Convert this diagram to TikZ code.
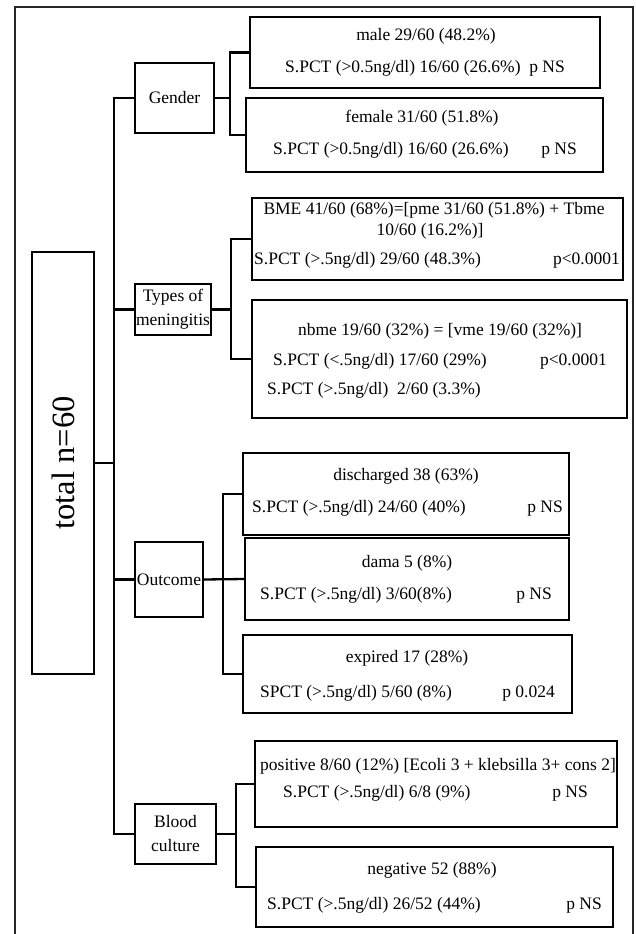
\documentclass[tikz,border=0pt]{standalone}
\usepackage{fontspec}
\setmainfont{Liberation Serif}
\begin{document}
\begin{tikzpicture}[x=1pt,y=-1pt,
  box/.style={draw, line width=2.3pt, anchor=north west, inner sep=0pt, outer sep=0pt},
  cat/.style={box, align=center, font=\fontsize{17.5}{24}\selectfont},
  txt/.style={inner sep=0pt, font=\fontsize{17.5}{21}\selectfont},
  conn/.style={line width=2.3pt},
  frame/.style={line width=1.4pt, draw=black!85}
]
\useasboundingbox (0,0) rectangle (636,934);
% outer frame (open at bottom)
\draw[frame] (15,934) -- (15,7) -- (633,7) -- (633,934);

% root
\node[box, minimum width=62pt, minimum height=422pt] (total) at (32,252) {};
\node[inner sep=0pt, rotate=90, font=\fontsize{32.5}{36}\selectfont] (totaltxt) at (total.center) {total n=60};

% categories
\node[cat, minimum width=79pt, minimum height=70pt] (gender) at (135,63) {Gender};
\node[cat, minimum width=76pt, minimum height=51pt] (types) at (135,284) {Types of\\meningitis};
\node[cat, minimum width=68pt, minimum height=75pt] (outcome) at (135,542) {Outcome};
\node[cat, minimum width=81pt, minimum height=60pt] (blood) at (135,804) {Blood\\culture};

% leaves
\node[box, minimum width=350pt, minimum height=71pt] (male) at (250,17) {};
\node[box, minimum width=357pt, minimum height=74pt] (female) at (246,98) {};
\node[box, minimum width=371pt, minimum height=82pt] (bme) at (252,198) {};
\node[box, minimum width=375pt, minimum height=118pt] (nbme) at (252,300) {};
\node[box, minimum width=326pt, minimum height=82pt] (disch) at (243,453) {};
\node[box, minimum width=324pt, minimum height=82pt] (dama) at (245,538) {};
\node[box, minimum width=329pt, minimum height=78pt] (expired) at (243,635) {};
\node[box, minimum width=362pt, minimum height=86pt] (positive) at (255,741) {};
\node[box, minimum width=357pt, minimum height=80pt] (negative) at (256,847) {};

% leaf texts
\node[txt, anchor=mid] (male1) at (426,38) {male 29/60 (48.2\%)};
\node[txt, anchor=mid west] (male2) at (285,70) {S.PCT (>0.5ng/dl) 16/60 (26.6\%)};
\node[txt, anchor=mid east] (male3) at (565,70) {p NS};

\node[txt, anchor=mid] (female1) at (422,120) {female 31/60 (51.8\%)};
\node[txt, anchor=mid west] (female2) at (273,152) {S.PCT (>0.5ng/dl) 16/60 (26.6\%)};
\node[txt, anchor=mid east] (female3) at (577,152) {p NS};

\node[txt, anchor=mid] (bme1) at (434,212) {BME 41/60 (68\%)=[pme 31/60 (51.8\%) + Tbme};
\node[txt, anchor=mid] (bme2) at (430,233) {10/60 (16.2\%)]};
\node[txt, anchor=mid west] (bme3) at (254,262) {S.PCT (>.5ng/dl) 29/60 (48.3\%)};
\node[txt, anchor=mid east] (bme4) at (620,262) {p<0.0001};

\node[txt, anchor=mid] (nbme1) at (440,333) {nbme 19/60 (32\%) = [vme 19/60 (32\%)]};
\node[txt, anchor=mid west] (nbme2) at (273,363) {S.PCT (<.5ng/dl) 17/60 (29\%)};
\node[txt, anchor=mid east] (nbme3) at (607,363) {p<0.0001};
\node[txt, anchor=mid west] (nbme4) at (267,392) {S.PCT (>.5ng/dl)\ \ 2/60 (3.3\%)};

\node[txt, anchor=mid] (disch1) at (406,478) {discharged 38 (63\%)};
\node[txt, anchor=mid west] (disch2) at (252,510) {S.PCT (>.5ng/dl) 24/60 (40\%)};
\node[txt, anchor=mid east] (disch3) at (563,510) {p NS};

\node[txt, anchor=mid] (dama1) at (407,565) {dama 5 (8\%)};
\node[txt, anchor=mid west] (dama2) at (260,597) {S.PCT (>.5ng/dl) 3/60(8\%)};
\node[txt, anchor=mid east] (dama3) at (552,597) {p NS};

\node[txt, anchor=mid] (exp1) at (407,660) {expired 17 (28\%)};
\node[txt, anchor=mid west] (exp2) at (260,695) {SPCT (>.5ng/dl) 5/60 (8\%)};
\node[txt, anchor=mid east] (exp3) at (555,695) {p 0.024};

\node[txt, anchor=mid] (pos1) at (438,768) {positive 8/60 (12\%) [Ecoli 3 + klebsilla 3+ cons 2]};
\node[txt, anchor=mid west] (pos2) at (283,795) {S.PCT (>.5ng/dl) 6/8 (9\%)};
\node[txt, anchor=mid east] (pos3) at (588,795) {p NS};

\node[txt, anchor=mid] (neg1) at (432,872) {negative 52 (88\%)};
\node[txt, anchor=mid west] (neg2) at (267,907) {S.PCT (>.5ng/dl) 26/52 (44\%)};
\node[txt, anchor=mid east] (neg3) at (602,907) {p NS};

% connector guide x positions
\coordinate (trunk) at (114,0);
\coordinate (gx) at (230,0);
\coordinate (tx) at (231,0);
\coordinate (ox) at (223,0);
\coordinate (bx) at (236,0);

% root to trunk
\draw[conn] (total.east) -- (total.east -| trunk);
\draw[conn] (gender.west) -- (gender.west -| trunk) -- (blood.west -| trunk) -- (blood.west);
\draw[conn] (types.west) -- (types.west -| trunk);
\draw[conn] (outcome.west) -- (outcome.west -| trunk);

% gender
\draw[conn] (gender.east) -- (gender.east -| gx);
\draw[conn] (male.west) -- (male.west -| gx) -- (female.west -| gx) -- (female.west);
% types
\draw[conn] (types.east) -- (types.east -| tx);
\draw[conn] (bme.west) -- (bme.west -| tx) -- (nbme.west -| tx) -- (nbme.west);
% outcome
\draw[conn] (outcome.east) -- (dama.west);
\draw[conn] (disch.west) -- (disch.west -| ox) -- (expired.west -| ox) -- (expired.west);
% blood
\draw[conn] (blood.east) -- (blood.east -| bx);
\draw[conn] (positive.west) -- (positive.west -| bx) -- (negative.west -| bx) -- (negative.west);
\end{tikzpicture}
\end{document}
